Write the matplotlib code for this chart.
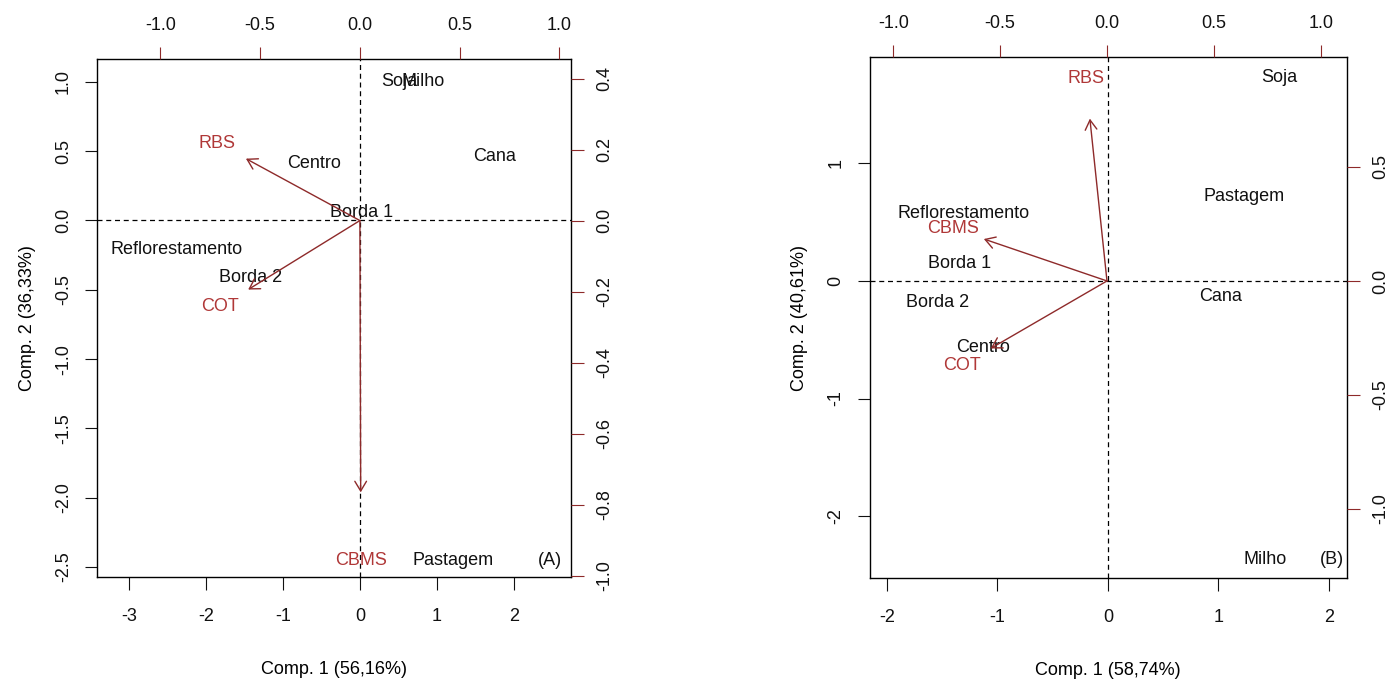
import matplotlib
matplotlib.use("Agg")
import matplotlib.pyplot as plt

plt.rcParams["font.family"] = ["Liberation Sans", "DejaVu Sans"]
plt.rcParams["axes.unicode_minus"] = False

# panel A scores (sites) and loadings (variables)
sites_a = ["Soja", "Milho", "Cana", "Centro", "Borda 1", "Reflorestamento", "Borda 2", "Pastagem"]
score_a_x = [0.51, 0.82, 1.75, -0.60, 0.02, -2.38, -1.42, 1.21]
score_a_y = [1.00, 1.00, 0.46, 0.41, 0.06, -0.21, -0.41, -2.455]
vars_a = ["RBS", "COT", "CBMS"]
load_a_x = [-0.714, -0.70, 0.005]
load_a_y = [0.218, -0.243, -0.957]

# panel B
sites_b = ["Soja", "Pastagem", "Reflorestamento", "Borda 1", "Borda 2", "Cana", "Centro", "Milho"]
score_b_x = [1.55, 1.23, -1.31, -1.34, -1.54, 1.02, -1.13, 1.42]
score_b_y = [1.73, 0.72, 0.57, 0.15, -0.18, -0.13, -0.57, -2.37]
vars_b = ["RBS", "CBMS", "COT"]
load_b_x = [-0.10, -0.72, -0.68]
load_b_y = [0.89, 0.23, -0.37]

RED_TXT = "#B03838"
RED_ARR = "#8E2A2A"
FS = 13


def fmt(vals, dec):
    return [f"{v:.{dec}f}" for v in vals]


def biplot(fig, pos, sites, sx, sy, vnames, lx, ly, lims, ticks, xlab, ylab, tag, tagpos):
    ax = fig.add_axes(pos)
    ax2 = fig.add_axes(pos)
    ax2.patch.set_visible(False)
    for s in ax2.spines.values():
        s.set_visible(False)

    ax.set_xlim(lims[0]); ax.set_ylim(lims[1])
    ax2.set_xlim(lims[2]); ax2.set_ylim(lims[3])

    bx, by, tx, ry, ydec = ticks
    ax.set_xticks(bx); ax.set_xticklabels([str(v) for v in bx])
    ax.set_yticks(by); ax.set_yticklabels(fmt(by, ydec), rotation=90, va="center")
    ax2.xaxis.tick_top(); ax2.yaxis.tick_right()
    ax2.set_xticks(tx); ax2.set_xticklabels(fmt(tx, 1))
    ax2.set_yticks(ry); ax2.set_yticklabels(fmt(ry, 1), rotation=90, va="center")

    for a in (ax, ax2):
        a.tick_params(length=9, width=0.8, labelsize=FS, pad=9, colors="#111111")
    ax.tick_params(axis="x", pad=13)
    ax2.tick_params(color=RED_ARR)
    for s in ax.spines.values():
        s.set_linewidth(1.0)

    ax.axhline(0, color="black", ls=(0, (4, 3)), lw=0.9)
    ax.axvline(0, color="black", ls=(0, (4, 3)), lw=0.9)

    for name, x, y in zip(sites, sx, sy):
        ax.text(x, y, name, ha="center", va="center", fontsize=FS, color="#111111")

    for name, x, y in zip(vnames, lx, ly):
        ax2.annotate("", xy=(0.8 * x, 0.8 * y), xytext=(0, 0),
                     arrowprops=dict(arrowstyle="->,head_length=0.5,head_width=0.3",
                                     color=RED_ARR, lw=1.0, shrinkA=0, shrinkB=0,
                                     mutation_scale=14))
        ax2.text(x, y, name, ha="center", va="center", fontsize=FS, color=RED_TXT)

    ax.text(tagpos[0], tagpos[1], tag, transform=ax.transAxes, ha="right", va="center",
            fontsize=FS, color="#111111")
    ax.set_xlabel(xlab, fontsize=FS, labelpad=26)
    ax.set_ylabel(ylab, fontsize=FS, labelpad=14)
    return ax


fig = plt.figure(figsize=(13.95, 6.8), dpi=100)

biplot(fig, [0.0695, 0.1515, 0.3398, 0.7617],
       sites_a, score_a_x, score_a_y, vars_a, load_a_x, load_a_y,
       [(-3.42, 2.74), (-2.572, 1.165), (-1.318, 1.058), (-1.004, 0.455)],
       ([-3, -2, -1, 0, 1, 2], [-2.5, -2.0, -1.5, -1.0, -0.5, 0.0, 0.5, 1.0],
        [-1.0, -0.5, 0.0, 0.5, 1.0], [-1.0, -0.8, -0.6, -0.4, -0.2, 0.0, 0.2, 0.4], 1),
       "Comp. 1 (56,16%)", "Comp. 2 (36,33%)", "(A)", (0.981, 0.031))

biplot(fig, [0.6233, 0.15, 0.3423, 0.7657],
       sites_b, score_b_x, score_b_y, vars_b, load_b_x, load_b_y,
       [(-2.158, 2.163), (-2.526, 1.902), (-1.111, 1.123), (-1.303, 0.981)],
       ([-2, -1, 0, 1, 2], [-2, -1, 0, 1],
        [-1.0, -0.5, 0.0, 0.5, 1.0], [-1.0, -0.5, 0.0, 0.5], 0),
       "Comp. 1 (58,74%)", "Comp. 2 (40,61%)", "(B)", (0.993, 0.035))

fig.savefig("out.png", dpi=100)
